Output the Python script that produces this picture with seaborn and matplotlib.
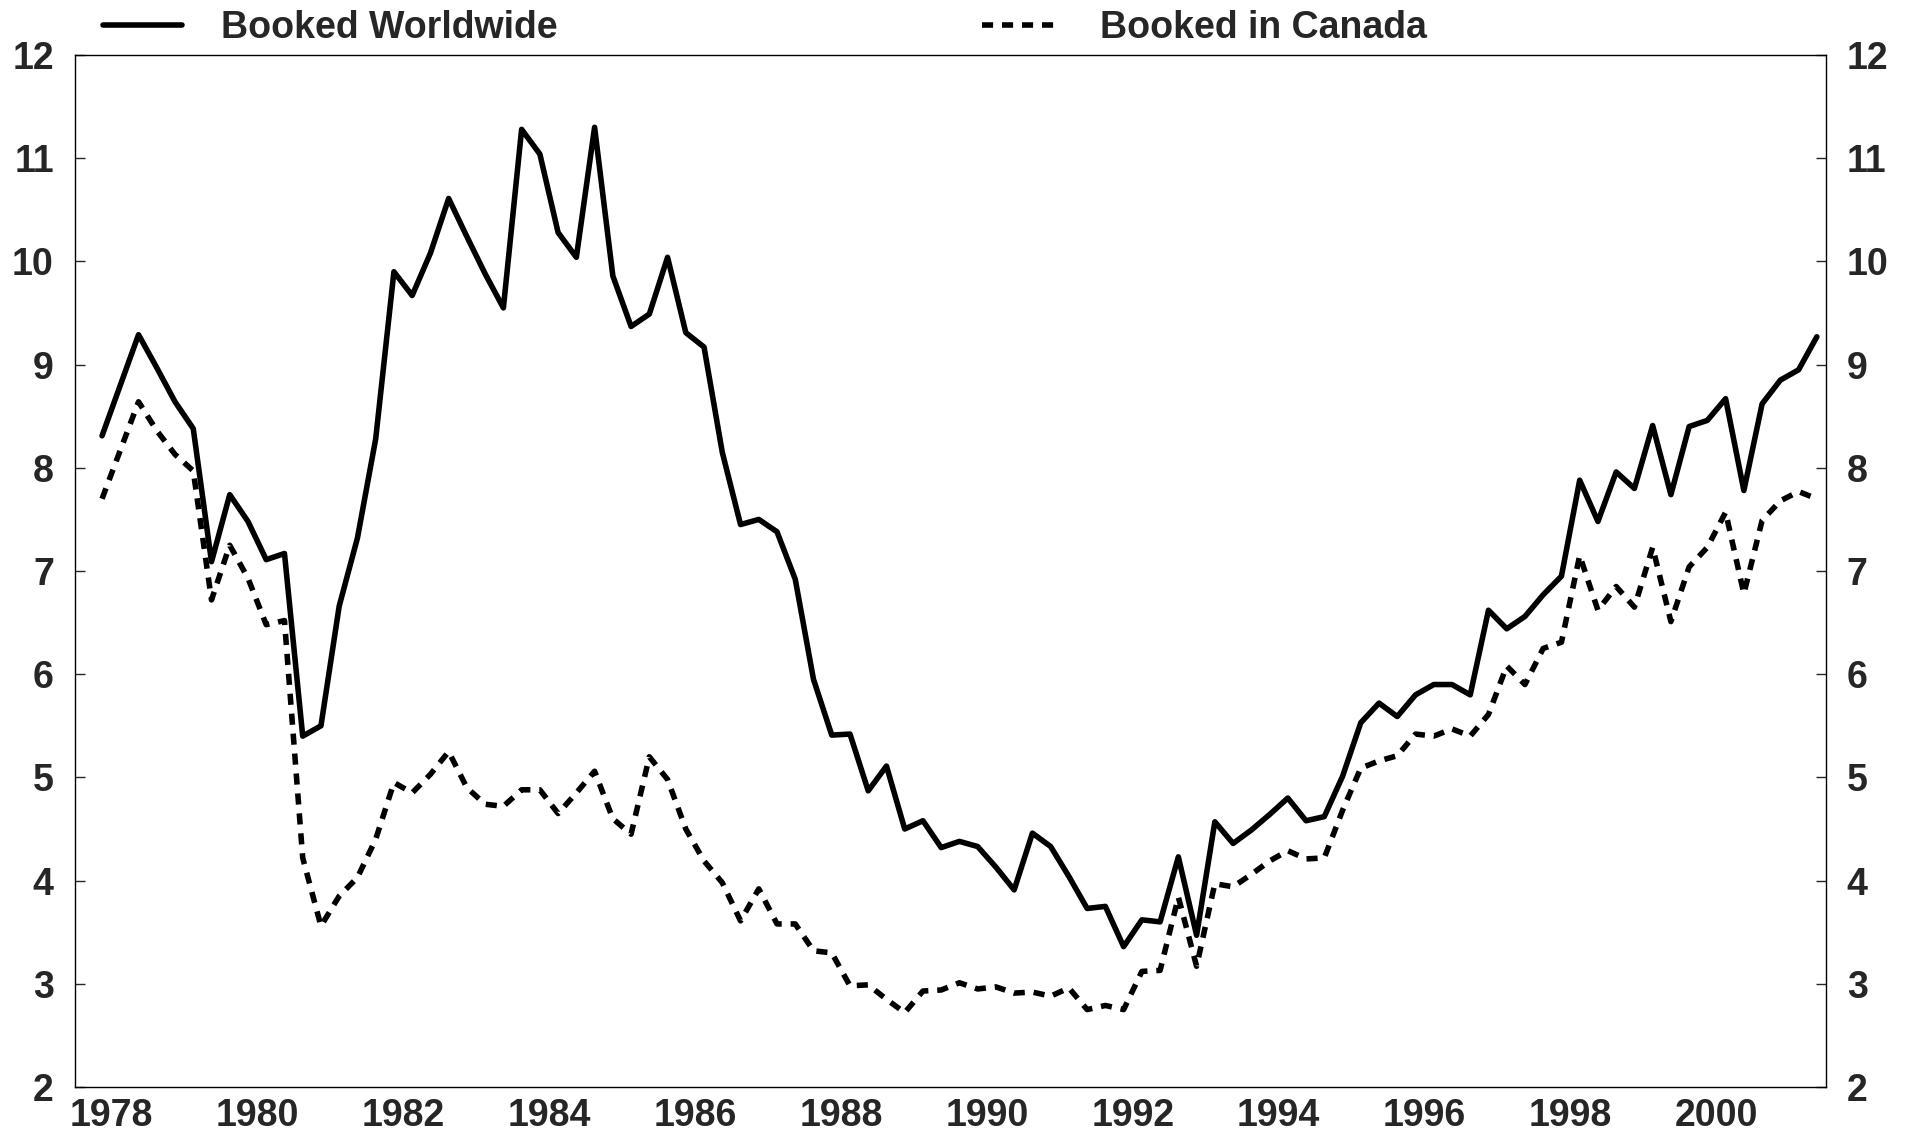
import numpy as np
import pandas as pd
import seaborn as sns
import matplotlib.pyplot as plt
from matplotlib.ticker import FixedLocator, NullFormatter

sns.set_style('white')
plt.rcParams['font.family'] = ['Liberation Sans', 'DejaVu Sans']
plt.rcParams['font.weight'] = 'bold'

# quarterly data, 1978Q2 - 2001Q4
quarters = pd.period_range('1978Q2', '2001Q4', freq='Q')

booked_worldwide = [
    8.31, 8.80, 9.29, 8.97, 8.64, 8.38, 7.09, 7.74, 7.48, 7.11,
    7.17, 5.40, 5.50, 6.66, 7.32, 8.28, 9.90, 9.67, 10.08, 10.61,
    10.24, 9.88, 9.55, 11.28, 11.04, 10.28, 10.04, 11.30, 9.86, 9.37,
    9.49, 10.04, 9.31, 9.17, 8.15, 7.45, 7.50, 7.38, 6.92, 5.95,
    5.41, 5.42, 4.87, 5.11, 4.50, 4.58, 4.32, 4.38, 4.33, 4.13,
    3.91, 4.46, 4.33, 4.04, 3.73, 3.75, 3.36, 3.62, 3.60, 4.23,
    3.47, 4.57, 4.36, 4.49, 4.64, 4.80, 4.58, 4.62, 5.01, 5.53,
    5.72, 5.59, 5.80, 5.90, 5.90, 5.80, 6.62, 6.44, 6.56, 6.77,
    6.95, 7.88, 7.48, 7.96, 7.80, 8.41, 7.74, 8.40, 8.46, 8.67,
    7.78, 8.62, 8.85, 8.95, 9.27,
]

booked_in_canada = [
    7.70, 8.17, 8.64, 8.36, 8.13, 7.97, 6.72, 7.25, 6.93, 6.48,
    6.52, 4.22, 3.56, 3.85, 4.03, 4.40, 4.95, 4.85, 5.03, 5.25,
    4.90, 4.74, 4.72, 4.88, 4.88, 4.65, 4.85, 5.06, 4.60, 4.45,
    5.20, 4.98, 4.50, 4.19, 3.98, 3.61, 3.92, 3.58, 3.58, 3.32,
    3.30, 2.98, 2.99, 2.85, 2.72, 2.93, 2.94, 3.01, 2.95, 2.97,
    2.91, 2.92, 2.88, 2.96, 2.75, 2.79, 2.75, 3.12, 3.13, 3.84,
    3.17, 3.97, 3.94, 4.06, 4.19, 4.29, 4.21, 4.22, 4.68, 5.09,
    5.16, 5.21, 5.42, 5.40, 5.47, 5.40, 5.61, 6.08, 5.90, 6.25,
    6.31, 7.15, 6.62, 6.85, 6.65, 7.23, 6.51, 7.04, 7.23, 7.57,
    6.78, 7.49, 7.68, 7.77, 7.70,
]

year_labels = [str(y) for y in range(1978, 2001, 2)]
y_ticks = list(range(2, 13))

# points sit in the middle of each quarter
t = quarters.year + (quarters.quarter - 0.5) / 4

df = pd.concat([
    pd.DataFrame({'t': t, 'value': booked_worldwide, 'series': 'Booked Worldwide'}),
    pd.DataFrame({'t': t, 'value': booked_in_canada, 'series': 'Booked in Canada'}),
])

fig = plt.figure(figsize=(19.1, 11.35), dpi=100)
ax = fig.add_axes([0.0391, 0.0423, 0.9169, 0.9092])

sns.lineplot(
    data=df, x='t', y='value', style='series',
    dashes={'Booked Worldwide': '', 'Booked in Canada': (2, 1.6)},
    color='black', linewidth=4.0, legend=False, ax=ax,
)

ax.set_xlim(1978, 2002)
ax.set_ylim(2, 12)
ax.set_xlabel('')
ax.set_ylabel('')

# year boundaries as ticks, labels centred in the year
ax.xaxis.set_major_locator(FixedLocator(range(1979, 2002)))
ax.xaxis.set_major_formatter(NullFormatter())
ax.xaxis.set_minor_locator(FixedLocator([int(y) + 0.5 for y in year_labels]))
ax.set_xticklabels(year_labels, minor=True)
ax.tick_params(axis='x', which='major', direction='in', length=9, width=1, top=False)
ax.tick_params(axis='x', which='minor', length=0, pad=8, labelsize=27)

ax.set_yticks(y_ticks)
ax.set_yticklabels([str(v) for v in y_ticks])
ax.tick_params(axis='y', direction='in', length=7, width=1, left=True, right=True,
               labelleft=True, labelright=True, labelsize=27, pad=15)

for s in ax.spines.values():
    s.set_visible(True)
    s.set_color('black')
    s.set_linewidth(1.0)

handles = ax.get_lines()[:2]
fig.legend(handles, ['Booked Worldwide', 'Booked in Canada'],
           loc='center left', bbox_to_anchor=(103 / 1910, 1 - 28 / 1135),
           ncol=2, frameon=False, borderpad=0, borderaxespad=0,
           handlelength=2.1, handletextpad=1.05, columnspacing=11.3,
           prop={'size': 27, 'weight': 'bold'})

fig.savefig('out.png', dpi=100, facecolor='white')
